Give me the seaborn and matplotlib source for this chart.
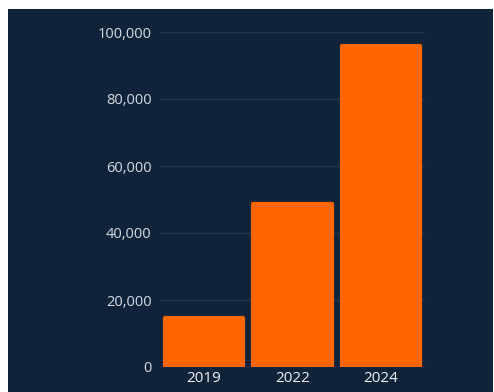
import matplotlib
matplotlib.use("Agg")
import matplotlib.pyplot as plt
import seaborn as sns
import pandas as pd
from matplotlib.patches import Rectangle
from matplotlib.ticker import FuncFormatter

years = ["2019", "2022", "2024"]
values = [14600, 48700, 95800]
yticks = [0, 20000, 40000, 60000, 80000, 100000]

bg = "#0f233a"
bar_color = "#ff6600"

sns.set_theme(style="dark")
plt.rcParams["font.family"] = ["Open Sans", "DejaVu Sans"]

fig = plt.figure(figsize=(4.94, 3.92), dpi=100, facecolor="white")
fig.patches.append(Rectangle((8 / 494, 0), (493 - 8) / 494, (392 - 9) / 392,
                             transform=fig.transFigure, facecolor=bg,
                             edgecolor="none", zorder=-10))
ax = fig.add_axes([160 / 494, 25 / 392, (425 - 160) / 494, (367 - 32) / 392])
ax.set_facecolor(bg)

df = pd.DataFrame({"year": years, "value": values})
sns.barplot(data=df, x="year", y="value", color=bar_color, width=0.89,
            saturation=1, ax=ax, zorder=3)
for p in ax.patches:
    p.set_edgecolor(bar_color)
    p.set_linewidth(3)
    p.set_joinstyle("round")

ax.set_ylim(0, 100000)
ax.set_xlim(-0.5, 2.5)
ax.set_yticks(yticks)
ax.yaxis.set_major_formatter(FuncFormatter(lambda v, _: f"{int(v):,}"))
ax.grid(axis="y", color="#24384f", linewidth=1, zorder=0)
ax.grid(axis="x", visible=False)
for s in ax.spines.values():
    s.set_visible(False)
ax.set_xlabel("")
ax.set_ylabel("")
ax.tick_params(axis="y", colors="#d8dce2", labelsize=10.5, length=0, pad=6)
ax.tick_params(axis="x", colors="#f0f2f5", labelsize=11, length=0, pad=3)

fig.savefig("out.png", dpi=100, facecolor="white")
